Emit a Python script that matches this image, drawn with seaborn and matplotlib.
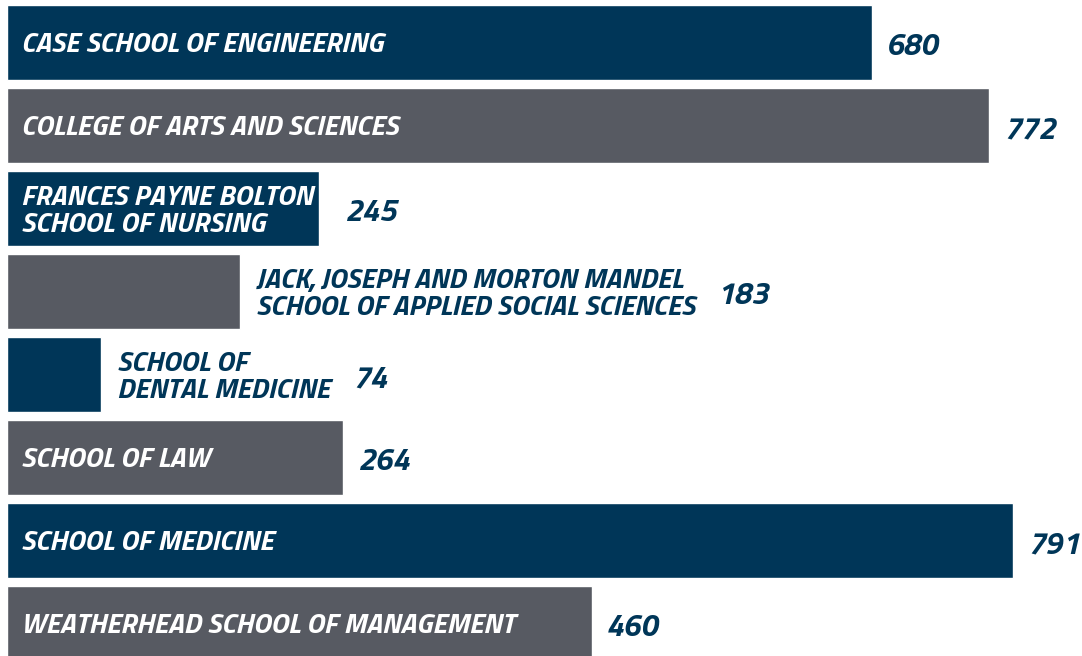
import matplotlib
matplotlib.use("Agg")
import matplotlib.pyplot as plt
import seaborn as sns
import pandas as pd

schools = [
    "CASE SCHOOL OF ENGINEERING",
    "COLLEGE OF ARTS AND SCIENCES",
    "FRANCES PAYNE BOLTON\nSCHOOL OF NURSING",
    "JACK, JOSEPH AND MORTON MANDEL\nSCHOOL OF APPLIED SOCIAL SCIENCES",
    "SCHOOL OF\nDENTAL MEDICINE",
    "SCHOOL OF LAW",
    "SCHOOL OF MEDICINE",
    "WEATHERHEAD SCHOOL OF MANAGEMENT",
]
counts = [680, 772, 245, 183, 74, 264, 791, 460]

NAVY = "#003658"
GRAY = "#575a62"
colors = [NAVY if i % 2 == 0 else GRAY for i in range(len(schools))]

df = pd.DataFrame({"school": schools, "count": counts})

sns.set_style("white")
plt.rcParams["font.family"] = ["Titillium Web", "DejaVu Sans"]

fig = plt.figure(figsize=(10.82, 6.56), dpi=100)
ax = fig.add_axes([7 / 1082, 0, 1 - 7 / 1082, 1])

sns.barplot(
    data=df, x="count", y="school", hue="school", palette=colors,
    orient="h", width=0.9, saturation=1, legend=False, ax=ax,
)

ax.set_xlim(0, 845)
ax.set_ylim(7.39, -0.512)
ax.axis("off")

fig.canvas.draw()
renderer = fig.canvas.get_renderer()
inv = ax.transData.inverted()

label_kw = dict(fontsize=20.5, fontweight="bold", fontstyle="italic", va="center",
                linespacing=1.12)
value_kw = dict(fontsize=22.5, fontweight="bold", fontstyle="italic", va="center", color=NAVY)
px = 1 / 1.272  # data units per pixel

for i, (name, val) in enumerate(zip(schools, counts)):
    t = ax.text(14 * px, i + 0.04, name, color="white", **label_kw)
    bb = t.get_window_extent(renderer)
    w = bb.width * px
    if w + 18 * px < val:
        end = val
        gap = 14 * px if "\n" not in name else 25 * px
    else:
        t.set_position((val + 16 * px, i + 0.04))
        t.set_color(NAVY)
        bb = t.get_window_extent(renderer)
        end = inv.transform((bb.x1, 0))[0]
        gap = 22 * px
    ax.text(end + gap, i + 0.06, f"{val}", **value_kw)

fig.savefig("out.png", dpi=100)
